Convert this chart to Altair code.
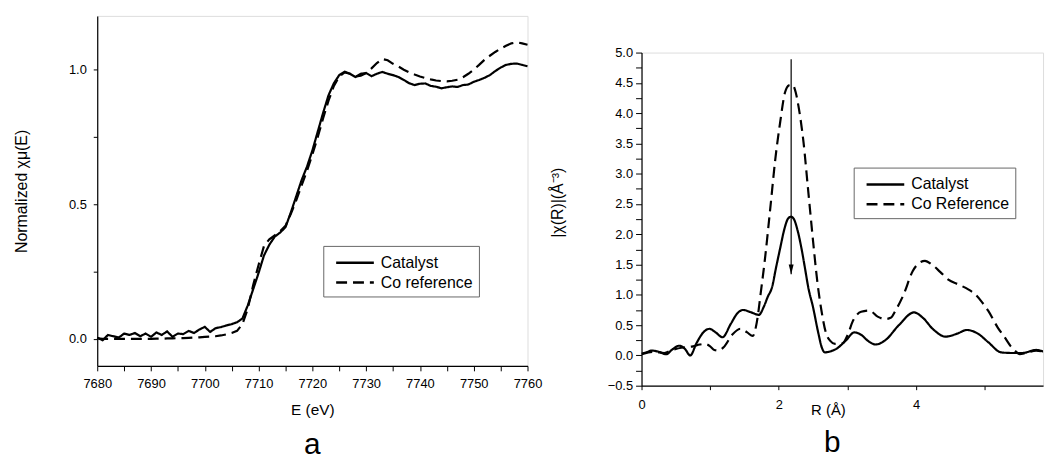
import altair as alt
import pandas as pd

FONT = "Liberation Sans"

# ---------------- Panel a : XANES ----------------
energy = list(range(7680, 7761))
catalyst_mu = [
    0.005, -0.005, 0.015, 0.010, 0.005, 0.020, 0.015, 0.022, 0.010, 0.020,
    0.008, 0.024, 0.015, 0.028, 0.008, 0.020, 0.018, 0.030, 0.022, 0.035,
    0.045, 0.026, 0.040, 0.044, 0.050, 0.055, 0.062, 0.076, 0.125, 0.185,
    0.245, 0.310, 0.350, 0.380, 0.395, 0.415, 0.470, 0.530, 0.590, 0.640,
    0.700, 0.770, 0.840, 0.905, 0.950, 0.980, 0.993, 0.985, 0.973, 0.985,
    0.988, 0.976, 0.985, 0.992, 0.985, 0.980, 0.973, 0.962, 0.950, 0.943,
    0.948, 0.949, 0.940, 0.937, 0.931, 0.935, 0.938, 0.936, 0.943, 0.945,
    0.955, 0.962, 0.970, 0.980, 0.995, 1.008, 1.018, 1.022, 1.023, 1.018,
    1.013,
]
coref_mu = [
    0.002, 0.000, 0.000, 0.000, 0.000, 0.000, 0.000, 0.000, 0.000, 0.000,
    0.000, 0.001, 0.001, 0.002, 0.002, 0.003, 0.003, 0.004, 0.005, 0.006,
    0.008, 0.009, 0.010, 0.013, 0.017, 0.022, 0.030, 0.055, 0.113, 0.200,
    0.275, 0.345, 0.370, 0.385, 0.400, 0.420, 0.465, 0.515, 0.570, 0.625,
    0.685, 0.750, 0.820, 0.885, 0.940, 0.975, 0.990, 0.985, 0.975, 0.978,
    0.988, 1.005, 1.025, 1.040, 1.035, 1.022, 1.012, 1.000, 0.990, 0.982,
    0.975, 0.969, 0.964, 0.960, 0.958, 0.957, 0.959, 0.963, 0.972, 0.985,
    1.000, 1.018, 1.037, 1.052, 1.066, 1.078, 1.089, 1.098, 1.102, 1.098,
    1.093,
]
series_a = ["Catalyst", "Co reference"]

# ---------------- Panel b : FT-EXAFS ----------------
r_cat = [0.00, 0.07, 0.15, 0.25, 0.36, 0.45, 0.55, 0.63, 0.71, 0.80,
         0.90, 0.99, 1.08, 1.18, 1.30, 1.40, 1.48, 1.60, 1.71, 1.78,
         1.84, 1.90, 1.96, 2.02, 2.08, 2.13, 2.175, 2.22, 2.27, 2.33,
         2.38, 2.43, 2.50, 2.57, 2.63, 2.67, 2.76, 2.84, 2.98, 3.10,
         3.20, 3.30, 3.41, 3.55, 3.75, 3.97, 4.10, 4.25, 4.43, 4.60,
         4.74, 4.90, 5.05, 5.24, 5.40, 5.55, 5.75, 5.90, 6.00]
chi_cat = [0.03, 0.05, 0.08, 0.06, 0.02, 0.10, 0.16, 0.11, 0.00, 0.20,
           0.38, 0.44, 0.38, 0.30, 0.52, 0.70, 0.75, 0.71, 0.67, 0.80,
           0.97, 1.12, 1.45, 1.77, 2.08, 2.25, 2.29, 2.25, 2.08, 1.77,
           1.45, 1.12, 0.79, 0.40, 0.12, 0.05, 0.07, 0.11, 0.25, 0.38,
           0.34, 0.24, 0.18, 0.25, 0.50, 0.71, 0.62, 0.43, 0.31, 0.36,
           0.42, 0.36, 0.22, 0.05, 0.04, 0.04, 0.09, 0.05, 0.03]
r_ref = [0.00, 0.10, 0.20, 0.33, 0.45, 0.60, 0.75, 0.85, 0.92, 1.00,
         1.06, 1.12, 1.20, 1.32, 1.44, 1.54, 1.62, 1.68, 1.74, 1.80,
         1.876, 1.95, 2.02, 2.09, 2.15, 2.20, 2.245, 2.286, 2.36, 2.43,
         2.50, 2.56, 2.62, 2.69, 2.75, 2.82, 2.93, 3.00, 3.08, 3.20,
         3.32, 3.44, 3.55, 3.63, 3.70, 3.82, 3.95, 4.05, 4.13, 4.23,
         4.35, 4.47, 4.62, 4.76, 4.86, 4.96, 5.05, 5.19, 5.29, 5.38,
         5.44, 5.51, 5.60, 5.75, 5.90, 6.00]
chi_ref = [0.02, 0.05, 0.06, 0.04, 0.09, 0.13, 0.15, 0.18, 0.19, 0.15,
           0.09, 0.08, 0.14, 0.34, 0.44, 0.38, 0.32, 0.55, 1.06, 1.61,
           2.43, 3.25, 3.85, 4.34, 4.46, 4.47, 4.35, 4.12, 3.52, 2.70,
           1.88, 1.23, 0.75, 0.36, 0.24, 0.19, 0.20, 0.33, 0.57, 0.72,
           0.74, 0.64, 0.60, 0.62, 0.74, 1.01, 1.39, 1.53, 1.56, 1.50,
           1.38, 1.25, 1.17, 1.09, 1.01, 0.88, 0.74, 0.46, 0.30, 0.15,
           0.08, 0.02, 0.04, 0.08, 0.05, 0.03]
series_b = ["Catalyst", "Co Reference"]

arrow_r = [2.18]
arrow_top = [4.89]
arrow_tip = [1.34]
arrow_head = [1.42]

DASHES = [[1, 0], [11, 6]]


def legend(x, y):
    # line symbol twice as long as its nominal size, so the rows stay compact
    return alt.Legend(
        title=None, orient="none", legendX=x, legendY=y,
        symbolType="M-2,0L2,0", symbolSize=361, symbolStrokeWidth=2.5,
        symbolStrokeColor="black", symbolOffset=15,
        labelFont=FONT, labelFontSize=16, labelColor="black", labelOffset=15,
        padding=6, rowPadding=1, strokeColor="#666666", fillColor="white",
        cornerRadius=0,
    )


def axcfg(**kw):
    base = dict(domainColor="black", tickColor="black", labelColor="black",
                titleColor="black", labelFont=FONT, titleFont=FONT,
                labelFontSize=13, titleFontSize=16, titleFontWeight="normal",
                grid=False, domainWidth=1.2, tickWidth=1, labelOverlap=False,
                labelFlush=False)
    base.update(kw)
    return alt.Axis(**base)


# ----- left chart -----
df_a = pd.DataFrame({
    "E": energy + energy,
    "mu": catalyst_mu + coref_mu,
    "series": [series_a[0]] * len(energy) + [series_a[1]] * len(energy),
})
left = alt.Chart(df_a).mark_line(color="black", strokeWidth=2.2).encode(
    x=alt.X("E:Q", scale=alt.Scale(domain=[7680, 7760], nice=False, zero=False),
            axis=axcfg(title="E (eV)", values=list(range(7680, 7761, 5)), format="d",
                       labelExpr="datum.value % 10 == 0 ? datum.label : ''",
                       tickSize=5, labelPadding=7, titlePadding=12, titleFontSize=15.5)),
    y=alt.Y("mu:Q", scale=alt.Scale(domain=[-0.1, 1.2], nice=False, zero=False),
            axis=axcfg(title="Normalized χμ(E)", values=[0, 0.25, 0.5, 0.75, 1.0],
                       labelExpr="datum.value % 0.5 == 0 ? format(datum.value, '.1f') : ''",
                       tickSize=4, labelPadding=7, titlePadding=39)),
    strokeDash=alt.StrokeDash("series:N", scale=alt.Scale(domain=series_a, range=DASHES),
                              legend=legend(228, 232)),
).properties(
    width=434, height=353,
    title=alt.TitleParams("a", orient="bottom", fontSize=30, font=FONT,
                          fontWeight="normal", color="black", offset=12),
)

# ----- right chart -----
df_b = pd.DataFrame({
    "R": r_cat + r_ref,
    "chi": chi_cat + chi_ref,
    "series": [series_b[0]] * len(r_cat) + [series_b[1]] * len(r_ref),
})
x_scale_b = alt.Scale(domain=[0, 5.85], nice=False, zero=False)
y_scale_b = alt.Scale(domain=[-0.5, 5.0], nice=False, zero=False)
x_axis_b = axcfg(title="R (Å)", values=[0, 1, 2, 3, 4, 5], format="d",
                 labelExpr="datum.value % 2 == 0 ? datum.label : ''",
                 tickSize=4, labelPadding=9, titlePadding=-9, titleX=188,
                 titleFontSize=15)
yvals = [round(-0.5 + 0.25 * i, 2) for i in range(23)]
y_axis_b = axcfg(title="|χ(R)|(Å⁻³)", values=yvals,
                 labelExpr="(abs(datum.value * 2 - round(datum.value * 2)) < 0.01) ? format(datum.value, '.1f') : ''",
                 tickSize=6, labelPadding=3, titlePadding=42, titleY=151)

lines_b = alt.Chart(df_b).mark_line(color="black", strokeWidth=2.2, interpolate="monotone",
                                    clip=True).encode(
    x=alt.X("R:Q", scale=x_scale_b, axis=x_axis_b),
    y=alt.Y("chi:Q", scale=y_scale_b, axis=y_axis_b),
    strokeDash=alt.StrokeDash("series:N", scale=alt.Scale(domain=series_b, range=DASHES),
                              legend=legend(214, 153)),
)
df_arrow = pd.DataFrame({"R": arrow_r, "top": arrow_top, "tip": arrow_tip, "head": arrow_head})
rule = alt.Chart(df_arrow).mark_rule(color="black", strokeWidth=1.2).encode(
    x=alt.X("R:Q", scale=x_scale_b, axis=x_axis_b),
    y=alt.Y("top:Q", scale=y_scale_b, axis=y_axis_b),
    y2="tip:Q")
head = alt.Chart(df_arrow).mark_point(
    shape="M-0.5,-1L0.5,-1L0,1Z", filled=True, color="black", size=100, opacity=1
).encode(
    x=alt.X("R:Q", scale=x_scale_b, axis=x_axis_b),
    y=alt.Y("head:Q", scale=y_scale_b, axis=y_axis_b))

right = alt.layer(lines_b, rule, head).properties(
    width=405, height=336,
    title=alt.TitleParams("b", orient="bottom", fontSize=30, font=FONT,
                          fontWeight="normal", color="black", offset=11, dx=-10, anchor="middle"),
)
spacer = alt.Chart(pd.DataFrame({"s": [""]})).mark_text().encode(
    text="s:N").properties(width=405, height=30)
right_wrap = alt.vconcat(spacer, right, spacing=0)

chart = alt.hconcat(left, right_wrap, spacing=6).resolve_scale(strokeDash="independent").properties(
    padding={"left": 5, "top": 5, "right": 5, "bottom": 0}
).configure_view(strokeWidth=0).configure(background="white")

chart.save("out.html", embed_options={"renderer": "svg", "actions": False})
